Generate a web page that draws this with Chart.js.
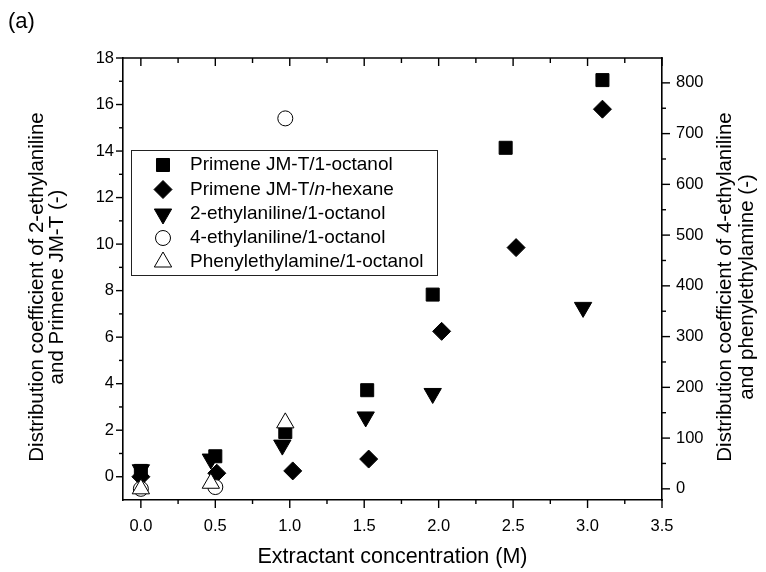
<!DOCTYPE html>
<html>
<head>
<meta charset="utf-8">
<script src="https://cdn.jsdelivr.net/npm/chart.js@4.4.1/dist/chart.umd.min.js"></script>
<style>
  html, body { margin: 0; padding: 0; background: #fff; }
</style>
</head>
<body>
<canvas id="chart" width="766" height="572"></canvas>
<script>
// concentration (M) and distribution coefficient
var primeneOctanolX = [0, 0.5, 0.97, 1.52, 1.96, 2.45, 3.1];
var primeneOctanolY = [0.25, 0.88, 1.92, 3.72, 7.83, 14.14, 17.05];
var primeneHexaneX = [0, 0.51, 1.02, 1.53, 2.02, 2.52, 3.1];
var primeneHexaneY = [0.0, 0.15, 0.25, 0.76, 6.25, 9.85, 15.8];
var ethylaniline2X = [0, 0.47, 0.95, 1.51, 1.96, 2.97];
var ethylaniline2Y = [0.3, 0.76, 1.36, 2.57, 3.58, 7.28];
// right axis series
var ethylaniline4X = [0, 0.5, 0.97];
var ethylaniline4Y = [0, 3.5, 730];
var phenylX = [0, 0.47, 0.97];
var phenylY = [0, 11, 130];

var seriesLabels = ['Primene JM-T/1-octanol', 'Primene JM-T/n-hexane', '2-ethylaniline/1-octanol',
    '4-ethylaniline/1-octanol', 'Phenylethylamine/1-octanol'];

var xTicks = [0, 0.5, 1, 1.5, 2, 2.5, 3, 3.5];
var xMinorTicks = [0.25, 0.75, 1.25, 1.75, 2.25, 2.75, 3.25];
var yTicks = [0, 2, 4, 6, 8, 10, 12, 14, 16, 18];
var yMinorTicks = [1, 3, 5, 7, 9, 11, 13, 15, 17];
var y2Ticks = [0, 100, 200, 300, 400, 500, 600, 700, 800];
var y2MinorTicks = [50, 150, 250, 350, 450, 550, 650, 750];

function points(xs, ys) {
    return xs.map(function (x, i) { return { x: x, y: ys[i] }; });
}

var markers = [
    { style: 'rect', radius: 9.2, rotation: 0, fill: '#000' },
    { style: 'rectRot', radius: 9, rotation: 0, fill: '#000' },
    { style: 'triangle', radius: 10, rotation: 180, fill: '#000' },
    { style: 'circle', radius: 7.5, rotation: 0, fill: '#fff' },
    { style: 'triangle', radius: 10, rotation: 0, fill: '#fff' }
];

function makeDataset(i, data, axis) {
    var m = markers[i];
    return {
        label: seriesLabels[i],
        data: data,
        yAxisID: axis,
        order: 5 - i,
        clip: false,
        pointStyle: m.style,
        pointRadius: m.radius,
        pointHoverRadius: m.radius,
        pointRotation: m.rotation,
        pointBackgroundColor: m.fill,
        pointBorderColor: '#000',
        pointBorderWidth: 1
    };
}

var FONT = 'Arial, "Liberation Sans"';
var tickFont = { family: FONT, size: 16.5 };

var frame = {
    id: 'frame',
    afterDraw: function (chart) {
        var ctx = chart.ctx;
        var a = chart.chartArea;
        var sx = chart.scales.x, sy = chart.scales.y, sy2 = chart.scales.y2;

        function line(x1, y1, x2, y2) {
            ctx.beginPath();
            ctx.moveTo(x1, y1);
            ctx.lineTo(x2, y2);
            ctx.stroke();
        }

        ctx.save();
        ctx.strokeStyle = '#000';
        ctx.lineWidth = 1.6;
        line(a.left - 0.8, a.top, a.right + 0.8, a.top);

        ctx.lineWidth = 1.4;
        xTicks.forEach(function (v) {
            var px = sx.getPixelForValue(v);
            line(px, a.bottom, px, a.bottom + 8);
            line(px, a.top, px, a.top + 8);
        });
        xMinorTicks.forEach(function (v) {
            var px = sx.getPixelForValue(v);
            line(px, a.bottom, px, a.bottom + 4);
            line(px, a.top, px, a.top + 5);
        });
        yTicks.forEach(function (v) {
            var py = sy.getPixelForValue(v);
            line(a.left, py, a.left - 7, py);
        });
        yMinorTicks.forEach(function (v) {
            var py = sy.getPixelForValue(v);
            line(a.left, py, a.left - 4, py);
        });
        y2Ticks.forEach(function (v) {
            var py = sy2.getPixelForValue(v);
            line(a.right, py, a.right + 8, py);
        });
        y2MinorTicks.forEach(function (v) {
            var py = sy2.getPixelForValue(v);
            line(a.right, py, a.right + 4, py);
        });

        // titles
        ctx.fillStyle = '#000';
        ctx.textBaseline = 'alphabetic';
        ctx.font = '22px ' + FONT;
        ctx.textAlign = 'left';
        ctx.fillText('(a)', 8, 28);

        ctx.textAlign = 'center';
        ctx.font = '21.5px ' + FONT;
        ctx.fillText('Extractant concentration (M)', (a.left + a.right) / 2, 563);

        ctx.font = '20.5px ' + FONT;
        [[43, 'Distribution coefficient of 2-ethylaniline'], [63, 'and Primene JM-T (-)'],
         [731, 'Distribution coefficient of 4-ethylaniline'], [753, 'and phenylethylamine (-)']].forEach(function (t) {
            ctx.save();
            ctx.translate(t[0], 287);
            ctx.rotate(-Math.PI / 2);
            ctx.fillText(t[1], 0, 0);
            ctx.restore();
        });

        // legend box
        ctx.lineWidth = 1;
        ctx.strokeStyle = '#222';
        ctx.strokeRect(131.5, 150.5, 306, 125);
        ctx.textAlign = 'left';
        ctx.textBaseline = 'middle';
        var rowY = [165, 189.5, 214, 238, 262];
        chart.data.datasets.forEach(function (ds, i) {
            var m = markers[i];
            ctx.fillStyle = m.fill;
            ctx.strokeStyle = '#000';
            ctx.lineWidth = 1;
            Chart.helpers.drawPoint(ctx, { pointStyle: m.style, rotation: m.rotation, radius: m.radius, borderWidth: 1 }, 163, rowY[i]);
            ctx.fillStyle = '#000';
            ctx.font = '19px ' + FONT;
            var parts = ds.label.split('/n-');
            if (parts.length === 2) {
                var x = 190;
                ctx.fillText(parts[0] + '/', x, rowY[i]);
                x += ctx.measureText(parts[0] + '/').width;
                ctx.font = 'italic 19px ' + FONT;
                ctx.fillText('n', x, rowY[i]);
                x += ctx.measureText('n').width;
                ctx.font = '19px ' + FONT;
                ctx.fillText('-' + parts[1], x, rowY[i]);
            } else {
                ctx.fillText(ds.label, 190, rowY[i]);
            }
        });
        ctx.restore();
    }
};

new Chart(document.getElementById('chart'), {
    type: 'scatter',
    data: {
        datasets: [
            makeDataset(0, points(primeneOctanolX, primeneOctanolY), 'y'),
            makeDataset(1, points(primeneHexaneX, primeneHexaneY), 'y'),
            makeDataset(2, points(ethylaniline2X, ethylaniline2Y), 'y'),
            makeDataset(3, points(ethylaniline4X, ethylaniline4Y), 'y2'),
            makeDataset(4, points(phenylX, phenylY), 'y2')
        ]
    },
    options: {
        responsive: false,
        animation: false,
        layout: { padding: { top: 58, left: 0, right: 0, bottom: 0 } },
        plugins: {
            legend: { display: false },
            tooltip: { enabled: false }
        },
        scales: {
            x: {
                type: 'linear',
                position: 'bottom',
                min: -0.12,
                max: 3.5,
                grid: { drawOnChartArea: false, drawTicks: false },
                border: { color: '#000', width: 1.6 },
                ticks: { font: tickFont, color: '#000', padding: 17, callback: function (v) { return v.toFixed(1); } },
                afterBuildTicks: function (s) { s.ticks = xTicks.map(function (v) { return { value: v }; }); },
                afterFit: function (s) { s.height = 72; }
            },
            y: {
                type: 'linear',
                position: 'left',
                min: -1,
                max: 18,
                grid: { drawOnChartArea: false, drawTicks: false },
                border: { color: '#000', width: 1.6 },
                ticks: { font: tickFont, color: '#000', padding: 9 },
                afterBuildTicks: function (s) { s.ticks = yTicks.map(function (v) { return { value: v }; }); },
                afterFit: function (s) { s.width = 123; }
            },
            y2: {
                type: 'linear',
                position: 'right',
                min: -22,
                max: 849,
                grid: { drawOnChartArea: false, drawTicks: false },
                border: { color: '#000', width: 1.6 },
                ticks: { font: tickFont, color: '#000', padding: 14 },
                afterBuildTicks: function (s) { s.ticks = y2Ticks.map(function (v) { return { value: v }; }); },
                afterFit: function (s) { s.width = 104; }
            }
        }
    },
    plugins: [frame]
});
</script>
</body>
</html>
